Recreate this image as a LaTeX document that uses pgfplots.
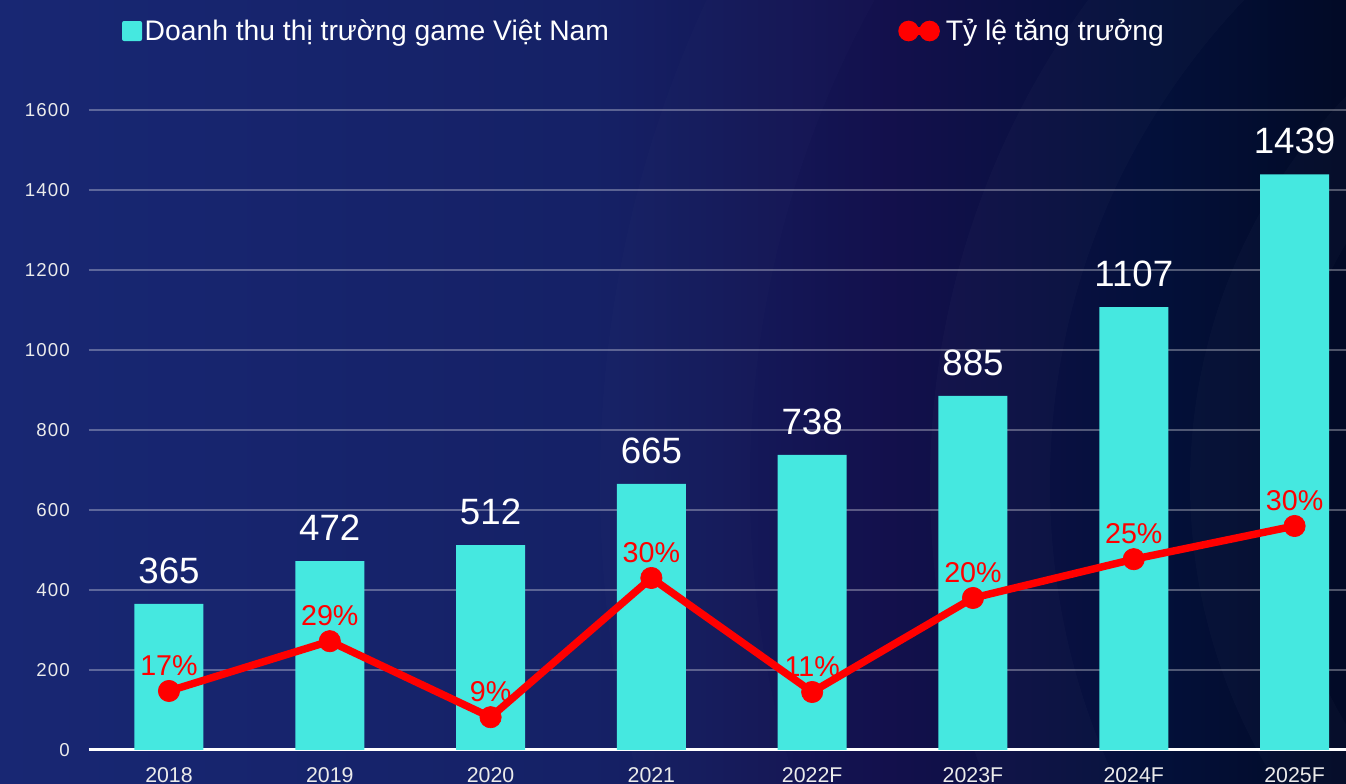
\documentclass[border=0pt]{standalone}
\usepackage{pgfplots}
\pgfplotsset{compat=1.18}
\usepackage{fontspec}
\setmainfont{Liberation Sans}
\definecolor{barc}{HTML}{45E8E0}
\definecolor{bg1}{HTML}{182773}
\definecolor{bg2}{HTML}{152166}
\definecolor{bg3}{HTML}{13104C}
\definecolor{bg4}{HTML}{03103A}
\definecolor{bg5}{HTML}{020A26}
\pgfdeclarehorizontalshading{bgsh}{100bp}{color(0bp)=(bg1); color(25bp)=(bg1); color(47bp)=(bg2); color(58bp)=(bg3); color(68bp)=(bg4); color(75bp)=(bg5); color(100bp)=(bg5)}
\begin{document}
\begin{tikzpicture}[x=0.75pt,y=0.75pt]
\clip (0,0) rectangle (1346,784);
\shade[shading=bgsh] (0,0) rectangle (1346,784);
\begin{scope}
\fill[white,opacity=0.018,even odd rule] (1750,300) circle (820) circle (700);
\fill[white,opacity=0.018,even odd rule] (1750,300) circle (560) circle (470);
\fill[white,opacity=0.012,even odd rule] (1750,300) circle (1150) circle (1000);
\end{scope}
\begin{axis}[
  at={(66.45pt,25.5pt)}, anchor=south west,
  scale only axis, width=943.05pt, height=480pt,
  xmin=-0.5, xmax=7.32, ymin=0, ymax=1600,
  axis lines=left,
  y axis line style={draw=none},
  x axis line style={draw=white, line width=2.25pt, -},
  ymajorgrids,
  major grid style={white, opacity=0.3, line width=1.5pt},
  major tick length=0pt,
  ytick={0,200,...,1600},
  xtick={0,...,7},
  xticklabels={2018,2019,2020,2021,2022F,2023F,2024F,2025F},
  /pgf/number format/assume math mode=true,
  /pgf/number format/1000 sep={},
  yticklabel style={font=\fontsize{14}{14}\selectfont\addfontfeature{LetterSpace=6}, text=white!92!black, inner sep=0pt, anchor=east, xshift=-14pt},
  xticklabel style={font=\fontsize{16}{16}\selectfont, text=white!92!black, inner sep=0pt, anchor=north, yshift=-12.75pt},
  clip=false,
  legend columns=2,
  legend style={at={(axis description cs:0.0266,1.1234)}, anchor=west, draw=none, fill=none, inner sep=0pt, outer sep=0pt,
    font=\fontsize{21.2}{21.2}\selectfont, text=white,
    /tikz/every even column/.append style={column sep=215pt}},
]
\addplot[ybar, bar width=51.75pt, fill=barc, draw=none,
  nodes near coords,
  nodes near coords style={text=white, font=\fontsize{27.5}{27.5}\selectfont, anchor=south, inner sep=0pt, yshift=15pt},
  legend image code/.code={\fill[barc, rounded corners=1.5pt] (0pt,-7.5pt) rectangle (15pt,7.5pt);}]
  coordinates {(0,365) (1,472) (2,512) (3,665) (4,738) (5,885) (6,1107) (7,1439)};
\addlegendentry{Doanh thu thị trường game Việt Nam}
\addplot[color=red, line width=5.6pt, mark=*, mark size=8pt, mark options={line width=0.5pt, fill=red, draw=red},
  point meta=explicit symbolic,
  nodes near coords,
  nodes near coords style={text=red, font=\fontsize{21.5}{21.5}\selectfont, anchor=south, inner sep=0pt, yshift=11pt},
  legend image code/.code={\path (0pt,0pt) -- (28pt,0pt); \draw[red, line width=4.5pt] (4.9pt,0pt) -- (20.6pt,0pt); \fill[red] (4.9pt,0pt) circle (4.9pt); \fill[red] (20.6pt,0pt) circle (4.9pt);}]
  coordinates {(0,147.5) [17\%] (1,272) [29\%] (2,82) [9\%] (3,430) [30\%] (4,145) [11\%] (5,380) [20\%] (6,477) [25\%] (7,560) [30\%]};
\addlegendentry{Tỷ lệ tăng trưởng}
\end{axis}
\end{tikzpicture}
\end{document}
